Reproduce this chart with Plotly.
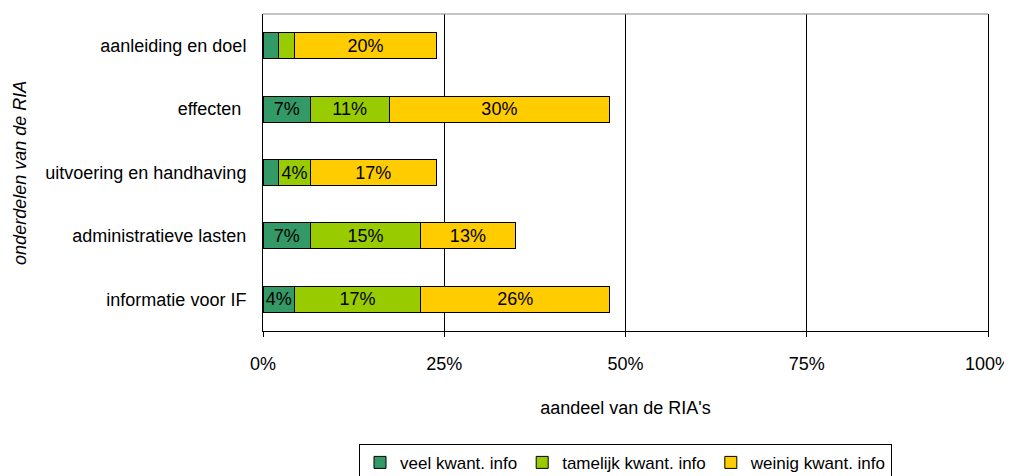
import plotly.graph_objects as go

categories = ["aanleiding en doel", "effecten ", "uitvoering en handhaving",
              "administratieve lasten", "informatie voor IF"]
series_names = ["veel kwant. info", "tamelijk kwant. info", "weinig kwant. info"]
veel = [2.17, 6.52, 2.17, 6.52, 4.35]
tamelijk = [2.17, 10.87, 4.35, 15.22, 17.39]
weinig = [19.57, 30.43, 17.39, 13.04, 26.09]
colors = ["#339966", "#99CC00", "#FFCC00"]
tick_vals = [0, 25, 50, 75, 100]
tick_text = ["0%", "25%", "50%", "75%", "100%"]

FONT = "Liberation Sans, Arial, sans-serif"
FS = 18

fig = go.Figure()
for name, vals, col in zip(series_names, [veel, tamelijk, weinig], colors):
    labels = [f"{int(v + 0.5)}%" if v >= 3 else "" for v in vals]
    fig.add_trace(go.Bar(
        y=categories, x=vals, name=name, orientation="h",
        marker=dict(color=col, line=dict(color="black", width=1)),
        text=labels, textposition="inside", insidetextanchor="middle",
        textangle=0, constraintext="none",
        insidetextfont=dict(color="black", size=FS, family=FONT),
        width=0.41,
    ))

fig.update_layout(
    barmode="stack",
    width=1012, height=476,
    margin=dict(l=255, r=32, t=6, b=153, autoexpand=False),
    paper_bgcolor="white", plot_bgcolor="white",
    font=dict(family=FONT, size=FS, color="black"),
    showlegend=True,
    legend=dict(orientation="h", x=0.5, xanchor="center", y=-0.356, yanchor="top",
                bordercolor="black", borderwidth=1, font=dict(size=17, family=FONT),
                traceorder="normal", itemwidth=30, tracegroupgap=0),
    xaxis=dict(range=[0, 100], tickvals=tick_vals, ticktext=tick_text,
               showgrid=True, gridcolor="black", gridwidth=1,
               showline=True, linecolor="black", linewidth=1,
               ticks="outside", ticklen=5, tickcolor="black",
               ticklabelstandoff=11, zeroline=False, automargin=False,
               title=dict(text="aandeel van de RIA's", standoff=28,
                          font=dict(size=FS, family=FONT))),
    yaxis=dict(autorange="reversed", showline=True, linecolor="black", linewidth=1,
               mirror=True, ticks="", ticklabelstandoff=12, showgrid=False,
               automargin=False),
    annotations=[dict(text="<i>onderdelen van de RIA</i>", xref="paper", yref="paper",
                      x=-0.336, y=0.5, xanchor="center", yanchor="middle",
                      textangle=-90, showarrow=False, font=dict(size=FS, family=FONT))],
    shapes=[dict(type="line", xref="paper", yref="paper", x0=0, x1=1, y0=1, y1=1,
                 line=dict(color="#888888", width=1))],
)

fig.write_html("out.html")
